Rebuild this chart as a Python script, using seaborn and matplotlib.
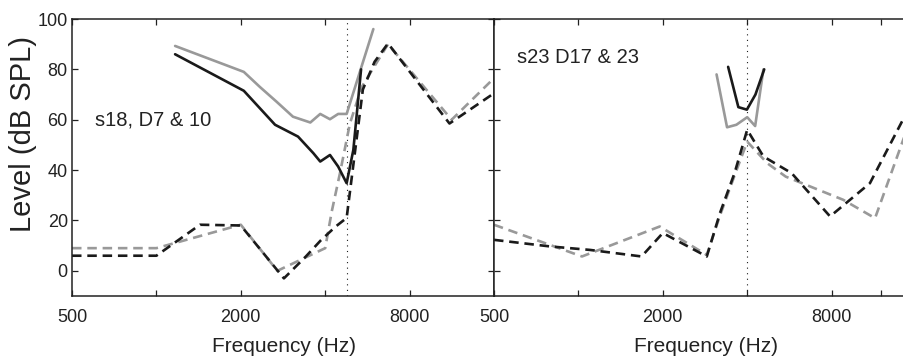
import numpy as np
import pandas as pd
import matplotlib
matplotlib.use("Agg")
import matplotlib.pyplot as plt
import seaborn as sns

# ---- dados ----
# painel esquerdo (s18, D7 & 10)
freq_e_trac_preto = [500, 1000, 1430, 2000, 2850, 3400, 3850, 4350, 4770, 5450, 6000, 6700, 11100, 16000]
nivel_e_trac_preto = [6, 6, 18.3, 18, -3, 5.5, 12, 17.5, 21, 72, 83, 90.3, 58.5, 70.5]
freq_e_trac_cinza = [500, 1000, 2000, 2700, 4000, 4220, 4520, 4900, 5400, 5900, 6700, 11300, 16000]
nivel_e_trac_cinza = [9, 9, 18.3, 0, 9, 23.5, 39, 58.5, 73, 80, 90, 60, 76.5]
freq_e_cheia_preto = [1166, 2050, 2650, 3200, 3630, 3840, 4160, 4450, 4770, 5040, 5370]
nivel_e_cheia_preto = [86, 71.5, 58, 53.3, 46.7, 43.4, 46, 41.4, 34.8, 48, 80]
freq_e_cheia_cinza = [1166, 2050, 2340, 2680, 3070, 3540, 3840, 4160, 4450, 4770, 5940]
nivel_e_cheia_cinza = [89.3, 79, 73, 67.2, 61.2, 58.9, 62.3, 60.2, 62.3, 62.3, 96]

# painel direito (s23 D17 & 23)
freq_d_trac_preto = [500, 790, 1100, 1680, 2000, 2870, 3200, 3610, 4000, 4570, 5760, 7900, 10960, 16000]
nivel_d_trac_preto = [12.3, 9.7, 8.3, 5.7, 15, 5.7, 23, 39, 56, 45.4, 38.8, 21.6, 34.8, 70]
freq_d_trac_cinza = [500, 1030, 1950, 2870, 3200, 3610, 4000, 4720, 5490, 8800, 11430, 14400, 16000]
nivel_d_trac_cinza = [18.3, 5.7, 17.6, 6.3, 22, 38, 51.3, 42.7, 37.4, 28.2, 20.9, 52, 66]
freq_d_cheia_preto = [3420, 3720, 3990, 4280, 4600]
nivel_d_cheia_preto = [81, 65, 64, 70, 80]
freq_d_cheia_cinza = [3110, 3390, 3660, 4000, 4270, 4570]
nivel_d_cheia_cinza = [78, 57, 58, 61, 57.5, 80]

freq_ref = [4770, 4000]
titulos = ["s18, D7 & 10", "s23 D17 & 23"]
ticks_x = [[500, 1000, 2000, 4000, 8000, 16000], [500, 1000, 2000, 4000, 8000, 12000, 16000]]
rotulos_x = [["500", "", "2000", "", "8000", ""], ["500", "", "2000", "", "8000", "", ""]]

sns.set_style("ticks")
plt.rcParams["font.family"] = ["Liberation Sans", "DejaVu Sans"]

preto = "#1a1a1a"
cinza = "#999999"
tracejado = (0, (3.6, 2.2))

fig = plt.figure(figsize=(9.04, 3.57), dpi=100)
ax_e = fig.add_axes([72 / 904, 61 / 357, 422 / 904, 277 / 357])
ax_d = fig.add_axes([494 / 904, 61 / 357, 422 / 904, 277 / 357], sharey=ax_e)

paineis = [
    (ax_e, [(freq_e_trac_cinza, nivel_e_trac_cinza, cinza, tracejado),
            (freq_e_trac_preto, nivel_e_trac_preto, preto, tracejado),
            (freq_e_cheia_cinza, nivel_e_cheia_cinza, cinza, "-"),
            (freq_e_cheia_preto, nivel_e_cheia_preto, preto, "-")]),
    (ax_d, [(freq_d_trac_cinza, nivel_d_trac_cinza, cinza, tracejado),
            (freq_d_trac_preto, nivel_d_trac_preto, preto, tracejado),
            (freq_d_cheia_cinza, nivel_d_cheia_cinza, cinza, "-"),
            (freq_d_cheia_preto, nivel_d_cheia_preto, preto, "-")]),
]

for i, (ax, series) in enumerate(paineis):
    ax.axvline(freq_ref[i], color=preto, linestyle=(0, (1, 4)), linewidth=0.8, zorder=1)
    for fx, ny, cor, estilo in series:
        df = pd.DataFrame({"f": fx, "n": ny})
        sns.lineplot(data=df, x="f", y="n", ax=ax, color=cor, linestyle=estilo,
                     linewidth=1.9, estimator=None, sort=False)
    ax.set_xscale("log", base=2)
    ax.set_xlim(500, 16000)
    ax.set_ylim(-10, 100)
    ax.set_xticks(ticks_x[i])
    ax.set_xticklabels(rotulos_x[i])
    ax.xaxis.set_minor_locator(matplotlib.ticker.NullLocator())
    ax.set_yticks([0, 20, 40, 60, 80, 100])
    ax.set_xlabel("")
    ax.set_ylabel("")
    ax.tick_params(direction="in", length=4.5, width=0.9, top=True, right=True,
                   labelsize=13, colors="#222222")
    ax.tick_params(axis="x", pad=9)
    ax.tick_params(axis="y", pad=3)
    for s in ax.spines.values():
        s.set_linewidth(1.1)
        s.set_color("#222222")
        s.set_visible(True)

plt.setp(ax_d.get_yticklabels(), visible=False)

ax_e.text(95 / 904, 1 - 120 / 357, titulos[0], transform=fig.transFigure,
          fontsize=14.5, ha="left", va="center", color="#222222")
ax_d.text(517 / 904, 1 - 57.5 / 357, titulos[1], transform=fig.transFigure,
          fontsize=14.5, ha="left", va="center", color="#222222")

fig.text(23 / 904, 1 - 134 / 357, "Level (dB SPL)", rotation=90, fontsize=21,
         ha="center", va="center", color="#222222")
fig.text(284 / 904, 1 - 346 / 357, "Frequency (Hz)", fontsize=15,
         ha="center", va="center", color="#222222")
fig.text(706 / 904, 1 - 346 / 357, "Frequency (Hz)", fontsize=15,
         ha="center", va="center", color="#222222")

fig.savefig("out.png", dpi=100)
